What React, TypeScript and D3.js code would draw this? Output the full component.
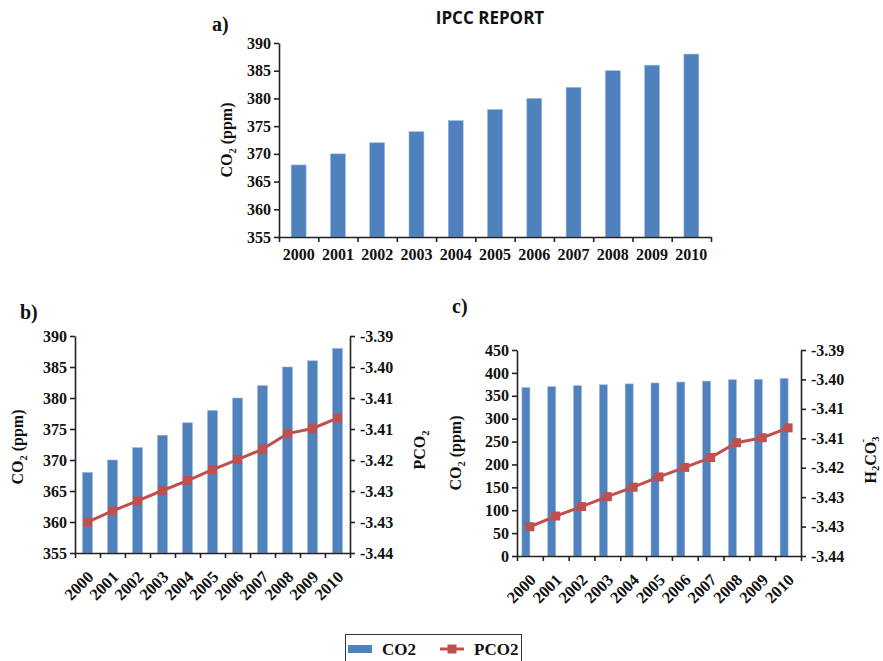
import React, { useEffect, useRef } from 'react';
import * as d3 from 'd3';

const years = ['2000', '2001', '2002', '2003', '2004', '2005', '2006', '2007', '2008', '2009', '2010'];
const co2 = [368, 370, 372, 374, 376, 378, 380, 382, 385, 386, 388];
const pco2 = [-3.4329, -3.4303, -3.428, -3.4256, -3.4233, -3.4208, -3.4185, -3.4161, -3.4125, -3.4113, -3.4089];
const co2TicksNarrow = [355, 360, 365, 370, 375, 380, 385, 390];
const co2TicksWide = [0, 50, 100, 150, 200, 250, 300, 350, 400, 450];
const rightTickLabels = ['-3.39', '-3.40', '-3.41', '-3.41', '-3.42', '-3.43', '-3.43', '-3.44'];
const rightDomain = [-3.44, -3.39];

const BLUE = '#4F81BD';
const RED = '#C0504D';
const SERIF = '"Liberation Serif", "Times New Roman", serif';

type PanelProps = {
  x0: number; x1: number; y0: number; y1: number;
  domain: number[]; ticks: number[];
  barFrac: number; barShift?: number;
  fontSize: number; rotate?: boolean; withLine?: boolean;
};

const Panel = ({ x0, x1, y0, y1, domain, ticks, barFrac, barShift = 0, fontSize, rotate, withLine }: PanelProps) => {
  const ref = useRef<SVGGElement>(null);

  useEffect(() => {
    const g = d3.select(ref.current);
    g.selectAll('*').remove();

    const x = d3.scaleBand().domain(years).range([x0, x1]);
    const y = d3.scaleLinear().domain(domain).range([y1, y0]);
    const bw = x.bandwidth();

    // bars
    g.selectAll('rect.bar')
      .data(co2)
      .join('rect')
      .attr('class', 'bar')
      .attr('x', (d, i) => x(years[i])! + bw * (0.5 - barFrac / 2) + barShift)
      .attr('width', bw * barFrac)
      .attr('y', d => y(d))
      .attr('height', d => y1 - y(d))
      .attr('fill', BLUE)
      .attr('stroke', '#9DB9DE')
      .attr('stroke-width', 0.6);

    const styleAxis = (sel: any) => {
      sel.attr('font-family', SERIF).attr('font-size', fontSize).attr('font-weight', 'bold');
      sel.selectAll('path').attr('stroke', '#222').attr('stroke-width', 1.6);
      sel.selectAll('line').attr('stroke', '#222').attr('stroke-width', 1.6);
      sel.selectAll('text').attr('fill', '#111');
    };

    // left axis
    g.append('g')
      .attr('transform', `translate(${x0},0)`)
      .call(d3.axisLeft(y).tickValues(ticks).tickSize(5).tickSizeOuter(0).tickPadding(3) as any)
      .call(styleAxis);

    // bottom axis, ticks at category boundaries
    const idx = d3.scaleLinear().domain([0, years.length]).range([x0, x1]);
    g.append('g')
      .attr('transform', `translate(0,${y1})`)
      .call(d3.axisBottom(idx).tickValues(d3.range(years.length + 1)).tickFormat(() => '').tickSize(5).tickSizeOuter(0) as any)
      .call(styleAxis);

    // year labels
    const labels = g.selectAll('text.year')
      .data(years)
      .join('text')
      .attr('class', 'year')
      .attr('font-family', SERIF)
      .attr('font-size', rotate ? fontSize + 0.5 : fontSize)
      .attr('font-weight', 'bold')
      .attr('fill', '#111')
      .text(d => d);
    if (rotate) {
      labels
        .attr('text-anchor', 'end')
        .attr('transform', d => `translate(${x(d)! + bw / 2 + 7},${y1 + 25}) rotate(-45)`);
    } else {
      labels
        .attr('text-anchor', 'middle')
        .attr('x', d => x(d)! + bw / 2)
        .attr('y', y1 + 23);
    }

    if (withLine) {
      const yR = d3.scaleLinear().domain(rightDomain).range([y1, y0]);
      const step = (rightDomain[1] - rightDomain[0]) / (rightTickLabels.length - 1);
      const rTicks = rightTickLabels.map((_, i) => rightDomain[1] - i * step);
      g.append('g')
        .attr('transform', `translate(${x1},0)`)
        .call(d3.axisRight(yR).tickValues(rTicks).tickFormat((d, i) => rightTickLabels[i]).tickSize(5).tickSizeOuter(0).tickPadding(5) as any)
        .call(styleAxis);

      const line = d3.line<number>()
        .x((d, i) => x(years[i])! + bw / 2)
        .y(d => yR(d));
      g.append('path')
        .datum(pco2)
        .attr('fill', 'none')
        .attr('stroke', RED)
        .attr('stroke-width', 3)
        .attr('d', line);

      const m = 9;
      g.selectAll('rect.mark')
        .data(pco2)
        .join('rect')
        .attr('class', 'mark')
        .attr('x', (d, i) => x(years[i])! + bw / 2 - m / 2)
        .attr('y', d => yR(d) - m / 2)
        .attr('width', m)
        .attr('height', m)
        .attr('fill', RED);
    }
  }, []);

  return <g ref={ref} />;
};

const CO2Label = ({ x, y, size }: { x: number; y: number; size: number }) => (
  <text transform={`translate(${x},${y}) rotate(-90)`} textAnchor="middle" fontFamily={SERIF}
    fontSize={size} fontWeight="bold" fill="#111">
    CO<tspan fontSize={size * 0.65} dy={4}>2</tspan><tspan dy={-4}> (ppm)</tspan>
  </text>
);

const App = () => {
  return (
    <div style={{ position: 'absolute', left: 0, top: 0 }}>
      <svg width={883} height={661} style={{ display: 'block', background: '#fff' }}>
        {/* a) */}
        <text x={490} y={24} textAnchor="middle" fontFamily='"Open Sans", sans-serif' fontWeight="bold" fontSize={17} fill="#111">IPCC REPORT</text>
        <text x={212} y={31} fontFamily={SERIF} fontWeight="bold" fontSize={20} fill="#111">a)</text>
        <CO2Label x={232} y={140} size={16} />
        <Panel x0={279} x1={711} y0={43} y1={237} domain={[355, 390]} ticks={co2TicksNarrow}
          barFrac={0.38} fontSize={16} />

        {/* b) */}
        <text x={20} y={319} fontFamily={SERIF} fontWeight="bold" fontSize={20} fill="#111">b)</text>
        <CO2Label x={23} y={447} size={16} />
        <text transform="translate(425,450) rotate(-90)" textAnchor="middle" fontFamily={SERIF} fontSize={16} fontWeight="bold" fill="#111">
          PCO<tspan fontSize={10.5} dy={4}>2</tspan>
        </text>
        <Panel x0={75} x1={350} y0={336} y1={553} domain={[355, 390]} ticks={co2TicksNarrow}
          barFrac={0.4} fontSize={16} rotate withLine />

        {/* c) */}
        <text x={452} y={313} fontFamily={SERIF} fontWeight="bold" fontSize={20} fill="#111">c)</text>
        <CO2Label x={461} y={453} size={16} />
        <text transform="translate(876,460) rotate(-90)" textAnchor="middle" fontFamily={SERIF} fontSize={16} fontWeight="bold" fill="#111">
          H<tspan fontSize={10.5} dy={3}>2</tspan><tspan dy={-3}>CO</tspan><tspan fontSize={10.5} dy={3}>3</tspan><tspan fontSize={10.5} dx={-6} dy={-13}>-</tspan>
        </text>
        <Panel x0={517} x1={801} y0={350} y1={556} domain={[0, 450]} ticks={co2TicksWide}
          barFrac={0.31} barShift={-4} fontSize={16} rotate withLine />

        {/* legend */}
        <rect x={345.5} y={634.5} width={176} height={40} fill="#fff" stroke="#333" strokeWidth={1} />
        <rect x={348} y={645} width={24} height={8} fill={BLUE} />
        <text x={382} y={655} fontFamily={SERIF} fontWeight="bold" fontSize={17} fill="#111">CO2</text>
        <line x1={440} x2={464} y1={649} y2={649} stroke={RED} strokeWidth={3} />
        <rect x={447.5} y={644.5} width={9} height={9} fill={RED} />
        <text x={474} y={655} fontFamily={SERIF} fontWeight="bold" fontSize={17} fill="#111">PCO2</text>
      </svg>
    </div>
  );
};

export default App;
